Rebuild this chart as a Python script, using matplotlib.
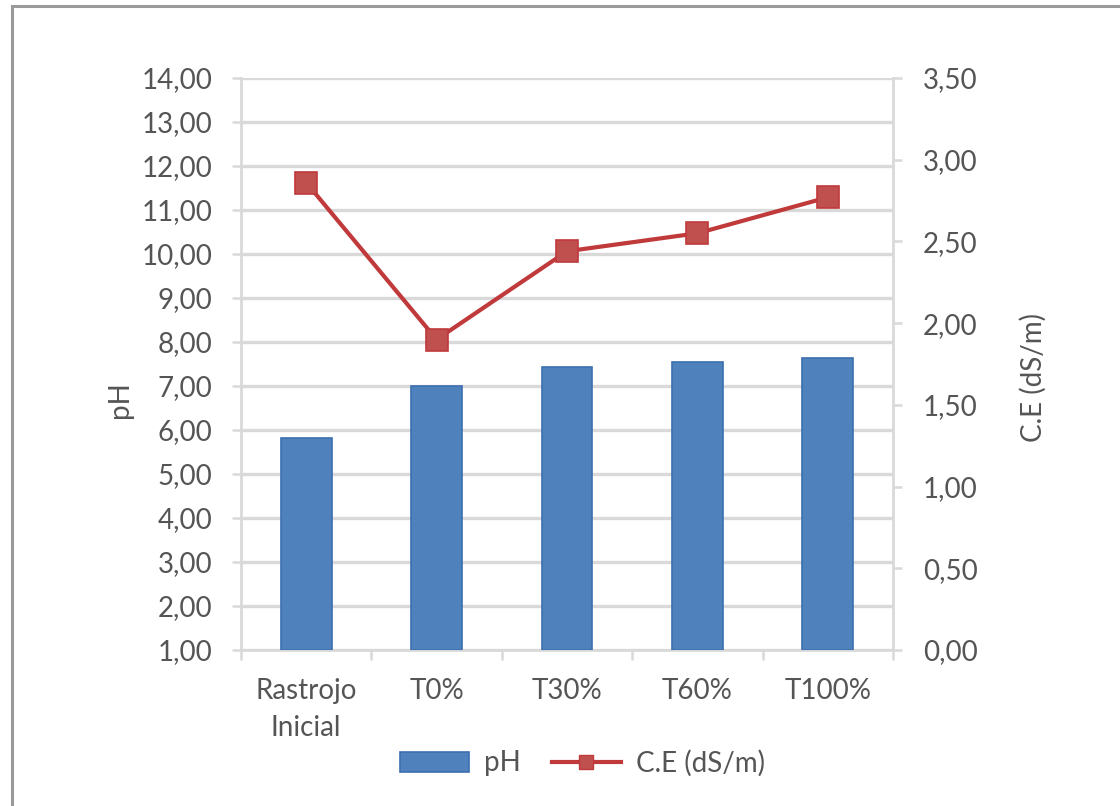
import matplotlib
matplotlib.use("Agg")
import matplotlib.pyplot as plt
from matplotlib.lines import Line2D
from matplotlib.patches import Patch, Rectangle
from matplotlib.ticker import FuncFormatter, MultipleLocator

categories = ["Rastrojo\nInicial", "T0%", "T30%", "T60%", "T100%"]
ph_values = [5.82, 7.00, 7.43, 7.55, 7.64]
ce_values = [2.86, 1.90, 2.44, 2.55, 2.77]
ph_label = "pH"
ce_label = "C.E (dS/m)"

plt.rcParams["font.family"] = ["Lato", "DejaVu Sans"]
text_color = "#555555"
grid_color = "#d9d9d9"
bar_color = "#4f81bd"
bar_edge = "#3c6fb0"
line_color = "#c0393b"
marker_color = "#c0504d"
fs = 20

fig = plt.figure(figsize=(11.2, 8.06), dpi=100)
fig.patches.append(Rectangle((0.0105, -0.01), 1.0, 1.003, transform=fig.transFigure,
                             fill=False, edgecolor="#9a9a9a", linewidth=2.2, zorder=0))

ax = fig.add_axes([0.2152, 0.1935, 0.5821, 0.7097])
x = list(range(len(categories)))
ax.bar(x, [v - 1.0 for v in ph_values], bottom=1.0, width=0.39, color=bar_color,
       edgecolor=bar_edge, linewidth=1.2, zorder=3)
ax.set_ylim(1.0, 14.0)
ax.set_xlim(-0.5, len(categories) - 0.5)
ax.yaxis.set_major_locator(MultipleLocator(1.0))
comma = FuncFormatter(lambda v, p: f"{v:.2f}".replace(".", ","))
ax.yaxis.set_major_formatter(comma)
ax.grid(axis="y", color=grid_color, linewidth=2.4, zorder=0)
ax.set_axisbelow(True)

# category labels sit between the boundary ticks
ax.set_xticks(x)
ax.set_xticklabels(categories, fontsize=fs, color=text_color, linespacing=1.55)
ax.tick_params(axis="x", length=0, pad=20)
ax.set_xticks([i - 0.5 for i in range(len(categories) + 1)], minor=True)
ax.tick_params(axis="x", which="minor", length=7, width=1.8, color=grid_color, direction="out")
ax.tick_params(axis="y", length=6.5, width=1.8, color=grid_color, labelsize=fs,
               labelcolor=text_color, pad=14)

for side in ["top", "right"]:
    ax.spines[side].set_visible(False)
for side in ["left", "bottom"]:
    ax.spines[side].set_color(grid_color)
    ax.spines[side].set_linewidth(2.0)

ax2 = ax.twinx()
ax2.plot(x, ce_values, color=line_color, linewidth=3.0, marker="s", markersize=16,
         markerfacecolor=marker_color, markeredgecolor=line_color, markeredgewidth=1.2,
         zorder=5)
ax2.set_ylim(0.0, 3.5)
ax2.yaxis.set_major_locator(MultipleLocator(0.5))
ax2.yaxis.set_major_formatter(comma)
ax2.tick_params(axis="y", length=6.5, width=1.8, color=grid_color, labelsize=fs,
                labelcolor=text_color, pad=15)
for side in ["top", "left", "bottom"]:
    ax2.spines[side].set_visible(False)
ax2.spines["right"].set_color(grid_color)
ax2.spines["right"].set_linewidth(2.0)

fig.text(120 / 1120, 1 - 400 / 806, ph_label, rotation=90, ha="center", va="center",
         fontsize=fs, color=text_color)
fig.text(1033 / 1120, 1 - 377 / 806, ce_label, rotation=90, ha="center", va="center",
         fontsize=fs, color=text_color)

handles = [
    Patch(facecolor=bar_color, edgecolor=bar_edge, linewidth=1.2),
    Line2D([0], [0], color=line_color, linewidth=3.0, marker="s", markersize=10,
           markerfacecolor=marker_color, markeredgecolor=line_color),
]
fig.legend(handles, [ph_label, ce_label], loc="center", bbox_to_anchor=(0.520, 1 - 763 / 806),
           ncol=2, frameon=False, fontsize=fs, labelcolor=text_color, handlelength=2.5,
           handleheight=0.75, columnspacing=1.1, handletextpad=0.55)

fig.savefig("out.png", dpi=100, facecolor="white")
